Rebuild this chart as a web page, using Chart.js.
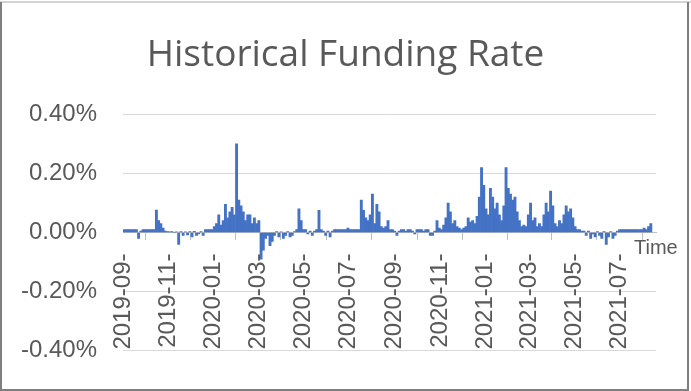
<!DOCTYPE html>
<html lang="en">
<head>
  <meta charset="UTF-8">
  <title>Historical Funding Rate</title>
  <style>
    body { margin: 0; background: #fff; }
    #box { width: 691px; height: 391px; position: relative; }
  </style>
  <script src="https://cdn.jsdelivr.net/npm/chart.js"></script>
</head>
<body>
  <div id="box"><canvas id="rateChart"></canvas></div>

  <script>
    // series starts on this date, one value every 3 days (values in %)
    const startDate = '2019-09-01';
    const stepDays = 3;
    const endDay = 718;

    const fundingRate = [
      0.01, 0.01, 0.01, 0.01, 0.01, 0.01, 0.01, -0.02, 0.005, 0.01,
      0.01, 0.01, 0.01, 0.01, 0.01, 0.076, 0.04, 0.03, 0.015, 0.005,
      0.003, 0.002, 0.003, 0, 0.002, -0.04, 0.003, -0.01, 0.002, -0.008,
      0.003, -0.015, 0.004, -0.01, -0.005, 0.003, -0.01, 0.01, 0.01, 0.01,
      0.01, 0.02, 0.03, 0.06, 0.025, 0.04, 0.095, 0.05, 0.07, 0.085,
      0.06, 0.30, 0.11, 0.09, 0.07, 0.04, 0.06, 0.06, 0.03, 0.05,
      0.03, 0.04, -0.09, -0.06, -0.02, -0.01, -0.045, -0.03, -0.01, 0.003,
      -0.015, 0.002, -0.02, -0.01, 0.003, -0.015, -0.01, 0.003, 0.01, 0.08,
      0.04, 0.01, 0.01, -0.005, 0.005, -0.01, 0.005, 0.01, 0.075, 0.01,
      0.005, -0.01, 0.005, -0.015, 0.005, 0.01, 0.01, 0.01, 0.01, 0.01,
      0.01, 0.015, 0.01, 0.01, 0.01, 0.01, 0.01, 0.11, 0.075, 0.05,
      0.04, 0.06, 0.13, 0.03, 0.095, 0.07, 0.02, 0.015, 0.02, 0.04,
      0.01, 0.01, 0.005, -0.01, 0.005, 0.01, 0.01, 0.005, 0.01, 0.01,
      0.005, -0.005, 0.01, 0.01, 0.01, 0.005, 0.01, 0.01, -0.01, -0.01,
      0.005, 0.04, 0.015, 0.01, 0.025, 0.05, 0.10, 0.07, 0.03, 0.04,
      0.02, 0.015, 0.01, 0.015, 0.02, 0.05, 0.035, 0.04, 0.03, 0.055,
      0.12, 0.22, 0.16, 0.08, 0.06, 0.15, 0.12, 0.08, 0.10, 0.06,
      0.04, 0.09, 0.22, 0.15, 0.13, 0.11, 0.12, 0.07, 0.04, 0.02,
      0.025, 0.02, 0.06, 0.10, 0.04, 0.05, 0.02, 0.03, 0.02, 0.06,
      0.10, 0.07, 0.14, 0.09, 0.03, 0.02, 0.04, 0.03, 0.06, 0.09,
      0.07, 0.08, 0.05, 0.02, 0.01, 0.01, 0.005, 0.005, -0.01, 0.005,
      -0.02, -0.005, -0.015, 0.003, -0.01, -0.02, 0.003, -0.04, -0.015, 0.003,
      -0.02, -0.01, 0.005, 0.01, 0.01, 0.01, 0.01, 0.01, 0.01, 0.01,
      0.01, 0.01, 0.01, 0.01, 0.015, 0.01, 0.02, 0.03
    ];

    const tickLabels = ['2019-09-', '2019-11-', '2020-01-', '2020-03-', '2020-05-', '2020-07-',
                        '2020-09-', '2020-11-', '2021-01-', '2021-03-', '2021-05-', '2021-07-'];

    const textColor = '#595959';

    // days between the start date and the first day of a "yyyy-mm-" label
    function dayOf(label) {
      const s = startDate.split('-');
      const t0 = Date.UTC(+s[0], +s[1] - 1, +s[2]);
      const p = label.split('-');
      return Math.round((Date.UTC(+p[0], +p[1] - 1, 1) - t0) / 86400000);
    }
    const tickDays = tickLabels.map(dayOf);

    const points = fundingRate.map((v, i) => ({ x: i * stepDays, y: v }));

    // white background, grey frame, "Time" label; also pins the zero-line x axis to the plot width
    const framePlugin = {
      id: 'frame',
      afterLayout(chart) {
        const x = chart.scales.x, area = chart.chartArea;
        x.left = area.left;
        x.right = area.right;
        x.width = area.right - area.left;
        x.configure();
      },
      beforeDraw(chart) {
        const ctx = chart.ctx;
        ctx.save();
        ctx.fillStyle = '#fff';
        ctx.fillRect(0, 0, chart.width, chart.height);
        ctx.restore();
      },
      afterDraw(chart) {
        const ctx = chart.ctx;
        const w = chart.width, h = chart.height;
        ctx.save();
        ctx.lineWidth = 2;
        ctx.strokeStyle = '#d4d4d4';
        ctx.beginPath(); ctx.moveTo(0, 2); ctx.lineTo(w, 2); ctx.stroke();
        ctx.strokeStyle = '#7f7f7f';
        ctx.beginPath();
        ctx.moveTo(1, 2); ctx.lineTo(1, h - 1); ctx.lineTo(w - 3, h - 1); ctx.lineTo(w - 3, 2);
        ctx.stroke();
        const y0 = chart.scales.y.getPixelForValue(0);
        ctx.fillStyle = textColor;
        ctx.font = '20px "Liberation Sans", Arial, sans-serif';
        ctx.textBaseline = 'alphabetic';
        ctx.fillText('Time', chart.chartArea.right - 22, y0 + 21);
        ctx.restore();
      }
    };

    const labelFont = { family: '"Liberation Sans", Arial, sans-serif', size: 24 };

    new Chart(document.getElementById('rateChart'), {
      type: 'bar',
      data: {
        datasets: [{
          label: 'Funding Rate',
          data: points,
          backgroundColor: '#4472C4',
          borderWidth: 0,
          barPercentage: 1.0,
          categoryPercentage: 1.0
        }]
      },
      options: {
        responsive: true,
        maintainAspectRatio: false,
        animation: false,
        layout: { padding: { left: 0, right: 0, top: 0, bottom: 34 } },
        plugins: {
          legend: { display: false },
          tooltip: { enabled: false },
          title: {
            display: true,
            text: 'Historical Funding Rate',
            color: textColor,
            font: { family: '"Open Sans", sans-serif', size: 37, weight: 'normal' },
            padding: { top: 33, bottom: 37 }
          }
        },
        scales: {
          x: {
            type: 'linear',
            position: { y: 0 },
            offset: false,
            min: 0,
            max: endDay,
            afterBuildTicks(scale) {
              scale.ticks = tickDays.map(d => ({ value: d }));
            },
            grid: { drawOnChartArea: false, drawTicks: true, tickLength: 7, color: '#bfbfbf' },
            border: { display: true, color: '#bfbfbf' },
            ticks: {
              autoSkip: false,
              maxRotation: 90,
              minRotation: 90,
              padding: 14,
              color: textColor,
              font: labelFont,
              callback(value) {
                const k = tickDays.indexOf(value);
                return k >= 0 ? tickLabels[k] : '';
              }
            }
          },
          y: {
            min: -0.4,
            max: 0.4,
            afterFit(scale) { scale.width = 123; },
            grid: { color: '#d9d9d9', drawTicks: false },
            border: { display: false },
            ticks: {
              stepSize: 0.2,
              padding: 26,
              color: textColor,
              font: labelFont,
              callback(value) { return value.toFixed(2) + '%'; }
            }
          },
          // empty right-hand strip so the title stays centred on the whole picture
          yRight: {
            position: 'right',
            grid: { display: false },
            border: { display: false },
            ticks: { display: false },
            afterFit(scale) { scale.width = 35; }
          }
        }
      },
      plugins: [framePlugin]
    });
  </script>
</body>
</html>
